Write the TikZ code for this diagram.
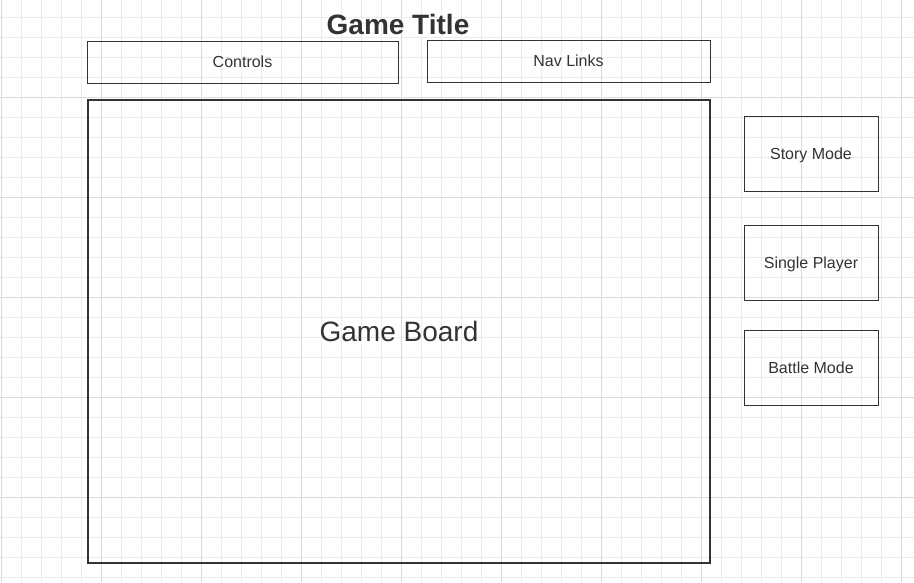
\documentclass[tikz,border=0pt]{standalone}
\usepackage{fontspec}
\setmainfont{Liberation Sans}
\usetikzlibrary{positioning}
\definecolor{ink}{HTML}{333333}
\definecolor{gridminor}{HTML}{EBEBEB}
\definecolor{gridmajor}{HTML}{DADADA}

\begin{document}
\begin{tikzpicture}[x=1pt, y=-1pt,
                    Panel/.style={draw=ink, line width=1pt, inner sep=0pt, text=ink, text depth=0pt,
                                  font=\fontsize{16}{19}\selectfont},
                    ModeBtn/.style={Panel, minimum width=134pt, minimum height=75pt},
                    node distance=33pt
                    ]
    \useasboundingbox (0,0) rectangle (914,582);

    % GRID %
    \foreach \x in {1.5,21.5,...,901.5}{
    \draw[gridminor, line width=1pt] (\x,0) -- (\x,582);
    }
    \foreach \y in {17.5,37.5,...,577.5}{
    \draw[gridminor, line width=1pt] (0,\y) -- (914,\y);
    }
    \foreach \x in {1.5,101.5,...,901.5}{
    \draw[gridmajor, line width=1pt] (\x,0) -- (\x,582);
    }
    \foreach \y in {97.5,197.5,...,497.5}{
    \draw[gridmajor, line width=1pt] (0,\y) -- (914,\y);
    }

    % HEADER %
    \node[text=ink, font=\fontsize{28}{32}\selectfont\bfseries] at (398,24) (title){Game Title};
    \node[Panel, minimum width=311pt, minimum height=42pt] at (242.5,62) (controls){Controls};
    \node[Panel, minimum width=283pt, minimum height=42pt] at (568.5,61) (navlinks){Nav Links};

    % BOARD %
    \node[Panel, line width=2pt, minimum width=622pt, minimum height=463pt,
          font=\fontsize{28}{32}\selectfont] at (399,331.5) (board){Game Board};

    % MODES %
    \node[ModeBtn] at (811,153.5) (story){Story Mode};
    \node[ModeBtn, below=of story] (single){Single Player};
    \node[ModeBtn, below=29pt of single] (battle){Battle Mode};

\end{tikzpicture}
\end{document}
